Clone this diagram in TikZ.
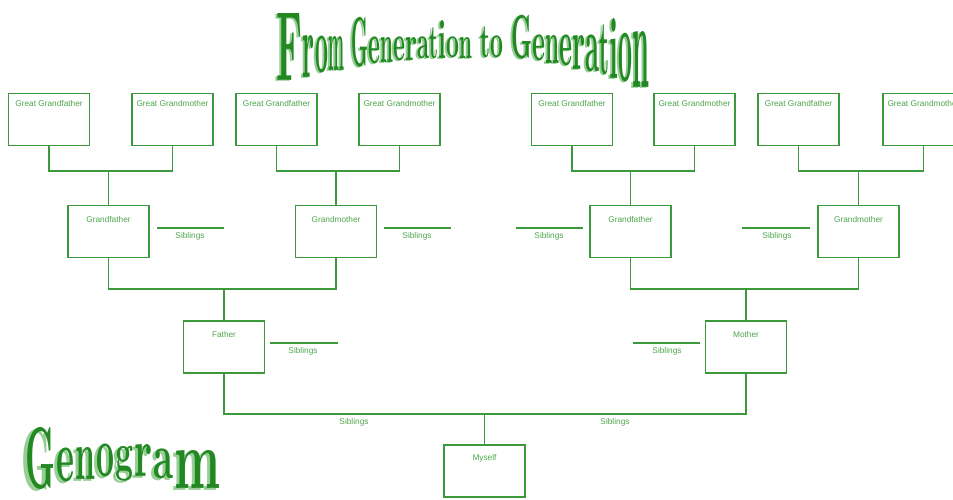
\documentclass[tikz,border=0pt]{standalone}
\usepackage{fontspec}
\usepackage{graphicx}
\newfontfamily\lblfont{Liberation Sans}
\definecolor{lc}{RGB}{60,154,60}
\definecolor{tc}{RGB}{76,165,76}
\definecolor{ttl}{RGB}{34,136,34}
\definecolor{shd}{RGB}{150,206,150}
\begin{document}
\begin{tikzpicture}[x=1pt,y=-1pt,
  ln/.style={draw=lc, line width=1.8pt},
  pbox/.style={draw=lc, line width=1.8pt, minimum width=81pt, minimum height=52pt, inner sep=0pt},
  blbl/.style={font=\lblfont\fontsize{8.3}{9}\selectfont, text=tc, inner sep=0pt, anchor=base},
  glyph/.style={inner sep=0pt, outer sep=0pt, anchor=south west}]
\useasboundingbox (0,0) rectangle (953,499);
\clip (0,0) rectangle (953,499);

% ---------- title ----------
\foreach \ch/\xa/\xb/\yt/\yb [count=\i] in {F/276/302/13/80, r/302/314/35/77, o/315/328/36/73, m/328/344/36/70,
  G/351/368/17/67, e/368/380/37/64, n/380/393/37/62, e/393/405/37/61, r/405/417/37/60, a/417/429/37/59,
  t/429/438/28/59, i/438/446/20/58, o/446/459/37/58, n/459/472/37/58,
  t/480/490/27/58, o/490/503/36/58,
  G/511/532/15/59, e/532/545/35/61, n/545/559/35/63, e/559/572/35/66, r/572/585/35/69, a/585/599/35/72,
  t/599/609/25/75, i/609/618/18/78, o/618/632/33/82, n/632/649/31/87}{
  \pgfmathsetmacro\gw{\xb-\xa}\pgfmathsetmacro\gh{\yb-\yt}
  \node[glyph, text=shd] (ts\i) at (\xa-1.5,\yb+1) {\resizebox*{\gw pt}{\gh pt}{\bfseries\ch}};
  \node[glyph, text=ttl] (tl\i) at (\xa,\yb) {\resizebox*{\gw pt}{\gh pt}{\bfseries\ch}};
}

% ---------- Genogram ----------
\foreach \ch/\xa/\xb/\yt/\yb [count=\i] in {G/25/55/427/489, e/56/74/448/482, n/75/95/447/479, o/96/114/444/477,
  g/115/133/446/481, r/134/152/444/476, a/153/173/449/479, m/174/220/450/488}{
  \pgfmathsetmacro\gw{\xb-\xa}\pgfmathsetmacro\gh{\yb-\yt}
  \node[glyph, text=shd] (gs\i) at (\xa-3,\yb+2) {\resizebox*{\gw pt}{\gh pt}{\bfseries\ch}};
  \node[glyph, text=ttl] (gl\i) at (\xa,\yb) {\resizebox*{\gw pt}{\gh pt}{\bfseries\ch}};
}

% ---------- great grandparents ----------
\node[pbox, label={[blbl, yshift=-13.5pt]north:Great Grandfather}] (b1) at (49,119.5) {};
\node[pbox, label={[blbl, yshift=-13.5pt]north:Great Grandmother}] (b2) at (172.5,119.5) {};
\node[pbox, label={[blbl, yshift=-13.5pt]north:Great Grandfather}] (b3) at (276.5,119.5) {};
\node[pbox, label={[blbl, yshift=-13.5pt]north:Great Grandmother}] (b4) at (399.5,119.5) {};
\node[pbox, label={[blbl, yshift=-13.5pt]north:Great Grandfather}] (b5) at (572,119.5) {};
\node[pbox, label={[blbl, yshift=-13.5pt]north:Great Grandmother}] (b6) at (694.5,119.5) {};
\node[pbox, label={[blbl, yshift=-13.5pt]north:Great Grandfather}] (b7) at (798.5,119.5) {};
\node[pbox, label={[blbl, yshift=-13.5pt]north:Great Grandmother}] (b8) at (923.5,119.5) {};

% ---------- grandparents ----------
\node[pbox, label={[blbl, yshift=-17.5pt]north:Grandfather}] (gf1) at (108.5,231.5) {};
\node[pbox, label={[blbl, yshift=-17.5pt]north:Grandmother}] (gm1) at (336,231.5) {};
\node[pbox, label={[blbl, yshift=-17.5pt]north:Grandfather}] (gf2) at (630.5,231.5) {};
\node[pbox, label={[blbl, yshift=-17.5pt]north:Grandmother}] (gm2) at (858.5,231.5) {};

% ---------- parents ----------
\node[pbox, label={[blbl, yshift=-17pt]north:Father}] (fa) at (224,347) {};
\node[pbox, label={[blbl, yshift=-17pt]north:Mother}] (mo) at (746,347) {};

% ---------- myself ----------
\node[pbox, label={[blbl, yshift=-16pt]north:Myself}] (me) at (484.5,471) {};

% ---------- connectors ----------
\coordinate (h1) at (0,171);
\coordinate (h2) at (0,289);
\coordinate (h3) at (0,414);
\draw[ln] (b1.south) -- (b1.south |- h1) -| (b2.south);
\draw[ln] (b3.south) -- (b3.south |- h1) -| (b4.south);
\draw[ln] (b5.south) -- (b5.south |- h1) -| (b6.south);
\draw[ln] (b7.south) -- (b7.south |- h1) -| (b8.south);
\draw[ln] (gf1.north) -- (gf1.north |- h1);
\draw[ln] (gm1.north) -- (gm1.north |- h1);
\draw[ln] (gf2.north) -- (gf2.north |- h1);
\draw[ln] (gm2.north) -- (gm2.north |- h1);

\draw[ln] (gf1.south) -- (gf1.south |- h2) -| (gm1.south);
\draw[ln] (gf2.south) -- (gf2.south |- h2) -| (gm2.south);
\draw[ln] (fa.north) -- (fa.north |- h2);
\draw[ln] (mo.north) -- (mo.north |- h2);

\draw[ln] (fa.south) -- (fa.south |- h3) -| (mo.south);
\draw[ln] (me.north) -- (me.north |- h3);

% ---------- siblings ----------
\coordinate (s1a) at (157,228); \coordinate (s1b) at (224,228);
\coordinate (s2a) at (384,228); \coordinate (s2b) at (451,228);
\coordinate (s3a) at (516,228); \coordinate (s3b) at (583,228);
\coordinate (s4a) at (742,228); \coordinate (s4b) at (810,228);
\coordinate (s5a) at (270,343); \coordinate (s5b) at (338,343);
\coordinate (s6a) at (633,343); \coordinate (s6b) at (700,343);
\draw[ln] (s1a) -- (s1b);
\draw[ln] (s2a) -- (s2b);
\draw[ln] (s3a) -- (s3b);
\draw[ln] (s4a) -- (s4b);
\draw[ln] (s5a) -- (s5b);
\draw[ln] (s6a) -- (s6b);
\node[blbl] (t1) at (190,238) {Siblings};
\node[blbl] (t2) at (417,238) {Siblings};
\node[blbl] (t3) at (549,238) {Siblings};
\node[blbl] (t4) at (777,238) {Siblings};
\node[blbl] (t5) at (303,353) {Siblings};
\node[blbl] (t6) at (667,353) {Siblings};
\node[blbl] (t7) at (354,424) {Siblings};
\node[blbl] (t8) at (615,424) {Siblings};
\end{tikzpicture}
\end{document}
